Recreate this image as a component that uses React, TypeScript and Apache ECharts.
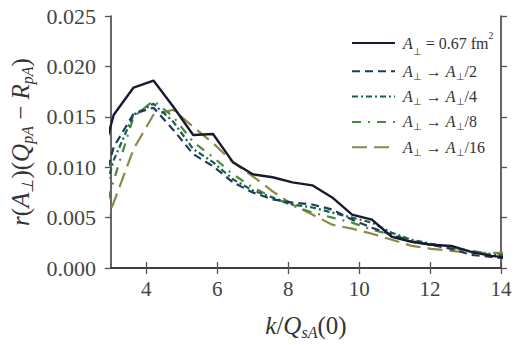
import React, { useEffect, useRef } from "react";
import * as echarts from "echarts";

const kValues = [2.52, 3.08, 3.64, 4.2, 4.76, 5.32, 5.88, 6.44, 7.0, 7.56, 8.12, 8.68, 9.24, 9.8, 10.36, 10.92, 11.48, 12.04, 12.6, 13.16, 13.72, 14.28];
const fullArea = [0.008, 0.0152, 0.0179, 0.0186, 0.016, 0.0132, 0.0133, 0.0105, 0.0093, 0.009, 0.0085, 0.0082, 0.007, 0.0053, 0.0048, 0.0031, 0.0026, 0.0023, 0.0022, 0.0016, 0.0012, 0.001];
const half = [0.005, 0.012, 0.0153, 0.0159, 0.0137, 0.0113, 0.0101, 0.0085, 0.0075, 0.0068, 0.0065, 0.0063, 0.0058, 0.0048, 0.004, 0.0033, 0.0026, 0.0023, 0.0019, 0.0013, 0.0011, 0.0009];
const quarter = [0.004, 0.0107, 0.0152, 0.0163, 0.0145, 0.0118, 0.0105, 0.0088, 0.0077, 0.007, 0.0063, 0.006, 0.0055, 0.005, 0.0045, 0.0035, 0.0028, 0.0024, 0.0021, 0.0016, 0.0013, 0.0012];
const eighth = [0.002, 0.0087, 0.015, 0.0166, 0.015, 0.0125, 0.011, 0.0093, 0.008, 0.007, 0.0062, 0.0055, 0.005, 0.0045, 0.0038, 0.0033, 0.0027, 0.0023, 0.002, 0.0017, 0.0014, 0.0013];
const sixteenth = [0.002, 0.0065, 0.0118, 0.0152, 0.0157, 0.014, 0.0124, 0.0105, 0.0091, 0.0076, 0.0063, 0.0053, 0.0043, 0.0039, 0.0034, 0.0028, 0.0022, 0.0019, 0.0017, 0.0015, 0.0015, 0.0015];

const seriesNames = ["full", "half", "quarter", "eighth", "sixteenth"];
const legendLabels = [
  "{i|A}{s|⊥}{t| = 0.67 fm}{p|2}",
  "{i|A}{s|⊥}{t| → }{i|A}{s|⊥}{t|/2}",
  "{i|A}{s|⊥}{t| → }{i|A}{s|⊥}{t|/4}",
  "{i|A}{s|⊥}{t| → }{i|A}{s|⊥}{t|/8}",
  "{i|A}{s|⊥}{t| → }{i|A}{s|⊥}{t|/16}",
];
const xTicks = [4, 6, 8, 10, 12, 14];

const colors = ["#1a1932", "#1d3d5a", "#1b5e4e", "#4a8a3c", "#8c8a45"];
const dashes: any[] = ["solid", [8, 5], [6, 3, 2, 3], [9, 7, 2, 7], [15, 7]];
const widths = [2.4, 2.2, 2.2, 2.2, 2.2];

const FONT = "serif";

export default function App() {
  const ref = useRef<HTMLDivElement>(null);
  useEffect(() => {
    if (!ref.current) return;
    const chart = echarts.init(ref.current, undefined, { renderer: "svg" });
    const allSeries = [fullArea, half, quarter, eighth, sixteenth];
    const rich = {
      i: { fontFamily: FONT, fontStyle: "italic", fontSize: 16, color: "#333", lineHeight: 20 },
      t: { fontFamily: FONT, fontSize: 16, color: "#333", lineHeight: 20 },
      s: { fontFamily: FONT, fontSize: 10, color: "#333", verticalAlign: "bottom", lineHeight: 14 },
      p: { fontFamily: FONT, fontSize: 10, color: "#333", verticalAlign: "top", lineHeight: 26 },
    };
    const axisNameRich = {
      i: { fontFamily: FONT, fontStyle: "italic", fontSize: 25, color: "#333", lineHeight: 30 },
      t: { fontFamily: FONT, fontSize: 25, color: "#333", lineHeight: 30 },
      s: { fontFamily: FONT, fontStyle: "italic", fontSize: 16, color: "#333", verticalAlign: "bottom", lineHeight: 20 },
    };
    chart.setOption({
      animation: false,
      backgroundColor: "#ffffff",
      textStyle: { fontFamily: FONT },
      grid: { left: 104, right: 17, top: 16, bottom: 75, containLabel: false },
      legend: {
        orient: "vertical",
        left: 346,
        top: 25,
        itemWidth: 43,
        itemHeight: 14,
        itemGap: 7.3,
        data: seriesNames,
        itemStyle: { opacity: 0 },
        formatter: (name: string) => legendLabels[seriesNames.indexOf(name)],
        textStyle: { fontFamily: FONT, fontSize: 16, color: "#333", rich, padding: [0, 0, 0, 3] },
      },
      xAxis: [
        {
          type: "value",
          min: 3,
          max: 14,
          position: "bottom",
          splitLine: { show: false },
          axisLine: { show: true, lineStyle: { color: "#333", width: 1.5 } },
          axisTick: { show: true, inside: false, length: 6, customValues: xTicks, lineStyle: { color: "#555", width: 1.3 } },
          axisLabel: { show: true, customValues: xTicks, margin: 10, fontFamily: FONT, fontSize: 21, color: "#444" },
          name: "{i|k}{t|/}{i|Q}{s|sA}{t|(0)}",
          nameLocation: "middle",
          nameGap: 42,
          nameTextStyle: { fontFamily: FONT, rich: axisNameRich },
        },
        {
          type: "value",
          min: 3,
          max: 14,
          position: "top",
          splitLine: { show: false },
          axisLine: { show: true, lineStyle: { color: "#333", width: 1.5 } },
          axisTick: { show: true, inside: false, length: 6, customValues: xTicks, lineStyle: { color: "#555", width: 1.3 } },
          axisLabel: { show: false },
        },
      ],
      yAxis: [
        {
          type: "value",
          min: 0,
          max: 0.025,
          interval: 0.005,
          position: "left",
          splitLine: { show: false },
          axisLine: { show: true, lineStyle: { color: "#333", width: 1.5 } },
          axisTick: { show: true, inside: false, length: 6, lineStyle: { color: "#555", width: 1.3 } },
          axisLabel: {
            show: true,
            margin: 15,
            fontFamily: FONT,
            fontSize: 22,
            color: "#444",
            formatter: (v: number) => v.toFixed(3),
          },
          name: "{i|r}{t|(}{i|A}{s|⊥}{t|)(}{i|Q}{s|pA}{t| − }{i|R}{s|pA}{t|)}",
          nameLocation: "middle",
          nameGap: 70,
          nameRotate: 90,
          nameTextStyle: { fontFamily: FONT, rich: axisNameRich },
        },
        {
          type: "value",
          min: 0,
          max: 0.025,
          interval: 0.005,
          position: "right",
          splitLine: { show: false },
          axisLine: { show: true, lineStyle: { color: "#333", width: 1.5 } },
          axisTick: { show: true, inside: false, length: 6, lineStyle: { color: "#555", width: 1.3 } },
          axisLabel: { show: false },
        },
      ],
      series: allSeries.map((vals, idx) => ({
        name: seriesNames[idx],
        type: "line",
        xAxisIndex: 0,
        yAxisIndex: 0,
        data: kValues.map((k, j) => [k, vals[j]]),
        showSymbol: false,
        symbol: "none",
        clip: true,
        z: 10 - idx,
        lineStyle: { color: colors[idx], width: widths[idx], type: dashes[idx] },
        itemStyle: { color: colors[idx] },
      })),
    });
    return () => chart.dispose();
  }, []);
  return <div ref={ref} style={{ position: "fixed", left: 0, top: 0, width: 518, height: 345 }} />;
}
